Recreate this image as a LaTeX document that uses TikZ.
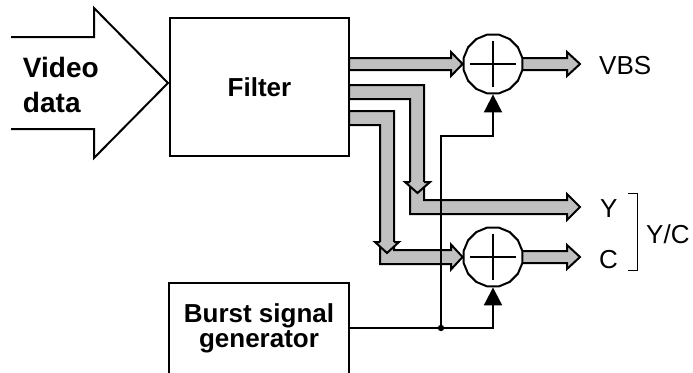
\documentclass[tikz,border=0pt]{standalone}
\usepackage{fontspec}
\setmainfont{Liberation Sans}
\usetikzlibrary{shapes.geometric,arrows.meta,calc}
\definecolor{pipegray}{HTML}{C0C0C0}
\pgfdeclarelayer{background}
\pgfsetlayers{background,main}
\begin{document}
\begin{tikzpicture}[x=1pt,y=-1pt, line width=2pt,
  pipe/.style={draw=black, fill=pipegray, line width=2pt, line join=miter, miter limit=10},
  box/.style={draw, rectangle, inner sep=0pt, line width=2pt},
  sumnode/.style={draw, fill=white, regular polygon, regular polygon sides=16, minimum size=60pt, inner sep=0pt, line width=2pt},
  ctl/.style={draw, line width=2pt, -{Triangle[length=18pt,width=18pt]}},
  boldtext/.style={font=\fontsize{26}{25}\selectfont\bfseries},
  lbl/.style={font=\fontsize{26}{26}\selectfont, inner sep=0pt, anchor=base west}]
\useasboundingbox (0,0) rectangle (693,372);

% big input arrow
\draw[line join=miter] (11,37) -- (94,37) -- (94,8) -- (168,83) -- (94,158) -- (94,129) -- (11,129);
\node[font=\fontsize{28}{35}\selectfont\bfseries, align=left, anchor=base west, inner sep=0pt] (video) at (22,112) {Video\\data};

% filter
\node[box, boldtext, minimum width=179pt, minimum height=138pt] (filter) at (259.5,87) {Filter};

% adders
\node[sumnode] (sum1) at (493,64) {};
\node[sumnode] (sum2) at (493,257) {};
\foreach \s in {sum1,sum2}{
  \draw (\s.center) ++(-23,0) -- ++(46,0);
  \draw (\s.center) ++(0,-23) -- ++(0,46);
}

% burst signal generator
\node[box, minimum width=180pt, minimum height=92pt] (burst) at (259,329) {};
\node[boldtext, align=center, anchor=base, inner sep=0pt] (bursttxt) at (259,347) {Burst signal\\generator};

% wide data paths
\begin{pgfonlayer}{background}
\begin{scope}[line width=2pt, line join=miter]
  % to VBS adder
  \path[pipe] (349,58) -- (451,58) -- (451,52) -- (sum1.west) -- (451,76) -- (451,70) -- (349,70) -- cycle;
  \path[pipe] (510,58) -- (567,58) -- (567,52) -- (580,64) -- (567,76) -- (567,70) -- (510,70) -- cycle;
  % Y path
  \path[pipe] (349,85) -- (424,85) -- (424,200) -- (567,200) -- (567,194) -- (580,207) -- (567,220) -- (567,214) -- (410,214) -- (410,99) -- (349,99) -- cycle;
  \fill[pipegray] (405,182) -- (430,182) -- (417.5,193) -- cycle;
  \draw (410,182) -- (405,182) -- (417.5,193) -- (430,182) -- (424,182);
  % C path
  \path[pipe] (349,111) -- (394,111) -- (394,250) -- (451,250) -- (451,244.5) -- (sum2.west) -- (451,269.5) -- (451,264) -- (380,264) -- (380,125) -- (349,125) -- cycle;
  \fill[pipegray] (375,242) -- (399,242) -- (387,253) -- cycle;
  \draw (380,242) -- (375,242) -- (387,253) -- (399,242) -- (394,242);
  \path[pipe] (510,251) -- (567,251) -- (567,245) -- (580,257) -- (567,269) -- (567,263) -- (510,263) -- cycle;
\end{scope}
\end{pgfonlayer}

% burst connections
\coordinate (junc) at (441,328);
\draw[ctl] (burst.east |- junc) -| (sum2.south);
\draw[ctl] (junc) -- (441,136) -| (sum1.south);
\fill (junc) circle (3.2pt);

% output labels
\node[lbl] (vbs) at (599,74) {VBS};
\node[lbl] (yout) at (600,217) {Y};
\node[lbl] (cout) at (599,268) {C};
\node[lbl] (ycout) at (646,243) {Y/C};
\draw (628,193) -- (637,193) -- (637,270) -- (628,270);
\end{tikzpicture}
\end{document}
